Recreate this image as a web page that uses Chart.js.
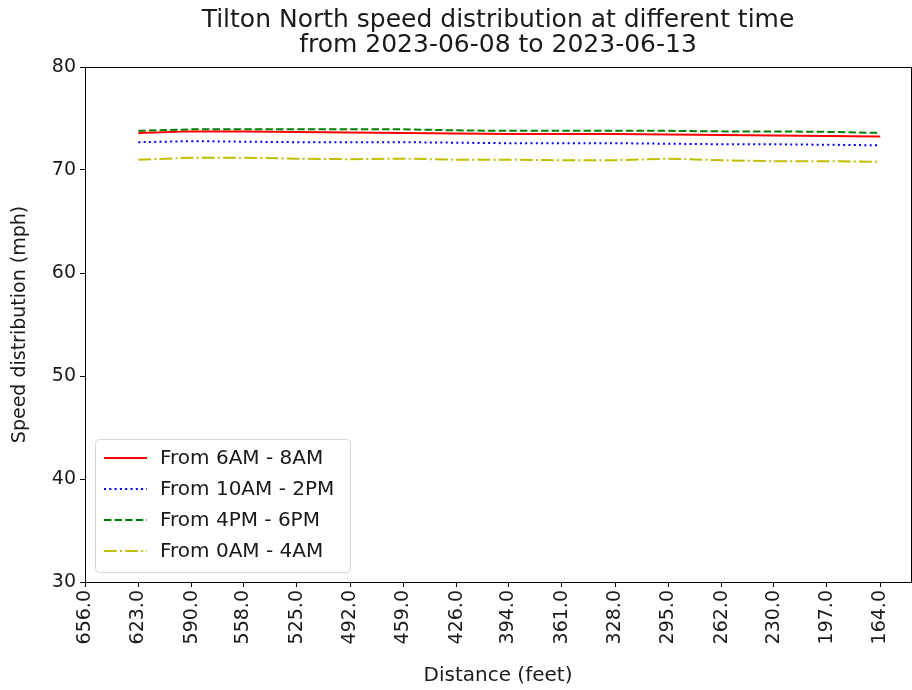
<!DOCTYPE html>
<html>
<head>
<meta charset="utf-8">
<script src="https://cdn.jsdelivr.net/npm/chart.js@4"></script>
<style>
  html, body { margin: 0; padding: 0; background: #fff; }
  #wrap { width: 912px; height: 690px; }
</style>
</head>
<body>
<div id="wrap"><canvas id="speedChart" width="912" height="690"></canvas></div>
<script>
// distance (feet) where data was measured
const distances = [623, 590, 558, 525, 492, 459, 426, 394, 361, 328, 295, 262, 230, 197, 164];
const xTicks = [656, 623, 590, 558, 525, 492, 459, 426, 394, 361, 328, 295, 262, 230, 197, 164];
const yTicks = [30, 40, 50, 60, 70, 80];

const morning = [73.6, 73.75, 73.75, 73.7, 73.65, 73.6, 73.55, 73.5, 73.5, 73.5, 73.45, 73.4, 73.35, 73.3, 73.25];
const midday = [72.7, 72.8, 72.75, 72.7, 72.7, 72.7, 72.65, 72.6, 72.6, 72.6, 72.55, 72.5, 72.5, 72.45, 72.4];
const evening = [73.8, 73.95, 73.95, 73.95, 73.95, 73.95, 73.85, 73.8, 73.8, 73.8, 73.8, 73.75, 73.75, 73.7, 73.6];
const night = [71.0, 71.2, 71.2, 71.1, 71.05, 71.1, 71.0, 71.0, 70.95, 70.95, 71.1, 70.95, 70.85, 70.85, 70.8];

const labels = ["From 6AM - 8AM", "From 10AM - 2PM", "From 4PM - 6PM", "From 0AM - 4AM"];
const titleLines = ["Tilton North speed distribution at different time", "from 2023-06-08 to 2023-06-13"];
const colors = ["#ff0000", "#0000ff", "#008000", "#bfbf00"];
const dashes = [[], [2, 3.3], [7.4, 3.2], [12.8, 3.2, 2, 3.2]];

const FONT = "'DejaVu Sans', sans-serif";
const TXT = "#1a1a1a";

function toPoints(vals) {
  return vals.map((v, i) => ({ x: distances[i], y: v }));
}

const series = [morning, midday, evening, night];
const datasets = series.map((vals, i) => ({
  label: labels[i],
  data: toPoints(vals),
  borderColor: colors[i],
  backgroundColor: colors[i],
  borderWidth: 2,
  borderDash: dashes[i],
  pointRadius: 0,
  tension: 0,
  fill: false,
}));

// 标题、框线、图例
const framePlugin = {
  id: "frame",
  afterDraw(chart) {
    const { ctx, chartArea: a } = chart;
    ctx.save();
    ctx.strokeStyle = "#000";
    ctx.lineWidth = 1;
    ctx.strokeRect(a.left + 0.5, a.top + 0.5, a.right - a.left, a.bottom - a.top);

    // title centred over the plot area
    ctx.fillStyle = TXT;
    ctx.font = "25px " + FONT;
    ctx.textAlign = "center";
    ctx.textBaseline = "middle";
    const cx = (a.left + a.right) / 2;
    titleLines.forEach((t, i) => ctx.fillText(t, cx, 20 + i * 25));

    // legend box
    const bx = a.left + 10, by = a.bottom - 143, bw = 255, bh = 133;
    ctx.fillStyle = "rgba(255,255,255,0.85)";
    ctx.strokeStyle = "#d6d6d6";
    ctx.beginPath();
    ctx.roundRect(bx + 0.5, by + 0.5, bw, bh, 4);
    ctx.fill();
    ctx.stroke();
    ctx.font = "20px " + FONT;
    ctx.textAlign = "left";
    labels.forEach((lab, i) => {
      const ly = by + 19 + i * 31;
      ctx.strokeStyle = colors[i];
      ctx.lineWidth = 2;
      ctx.setLineDash(dashes[i]);
      ctx.beginPath();
      ctx.moveTo(bx + 9, ly);
      ctx.lineTo(bx + 52, ly);
      ctx.stroke();
      ctx.setLineDash([]);
      ctx.fillStyle = TXT;
      ctx.fillText(lab, bx + 65, ly + 1);
    });
    ctx.restore();
  },
};

new Chart(document.getElementById("speedChart"), {
  type: "line",
  data: { datasets: datasets },
  plugins: [framePlugin],
  options: {
    responsive: false,
    animation: false,
    layout: { padding: { left: 8, right: 1, top: 67, bottom: 2 } },
    plugins: {
      legend: { display: false },
      tooltip: { enabled: false },
      title: { display: false },
    },
    scales: {
      x: {
        type: "linear",
        reverse: true,
        min: 145,
        max: 656,
        afterBuildTicks(axis) {
          axis.ticks = xTicks.map((v) => ({ value: v }));
        },
        afterFit(axis) {
          axis.height = 106;
        },
        grid: { drawOnChartArea: false, color: "#000", tickLength: 5 },
        border: { color: "#000" },
        ticks: {
          color: TXT,
          font: { family: FONT, size: 19 },
          minRotation: 90,
          maxRotation: 90,
          autoSkip: false,
          padding: 3,
          callback: (v) => Number(v).toFixed(1),
        },
        title: {
          display: true,
          text: "Distance (feet)",
          color: TXT,
          font: { family: FONT, size: 20, lineHeight: 1.2 },
          padding: { top: 2, bottom: 0 },
        },
      },
      y: {
        min: 30,
        max: 80,
        afterBuildTicks(axis) {
          axis.ticks = yTicks.map((v) => ({ value: v }));
        },
        afterFit(axis) {
          axis.width = 77;
        },
        grid: { drawOnChartArea: false, color: "#000", tickLength: 5 },
        border: { color: "#000" },
        ticks: { color: TXT, font: { family: FONT, size: 19 }, padding: 4 },
        title: {
          display: true,
          text: "Speed distribution (mph)",
          color: TXT,
          font: { family: FONT, size: 19, lineHeight: 1.2 },
          padding: { top: 1, bottom: 6 },
        },
      },
    },
  },
});
</script>
</body>
</html>
